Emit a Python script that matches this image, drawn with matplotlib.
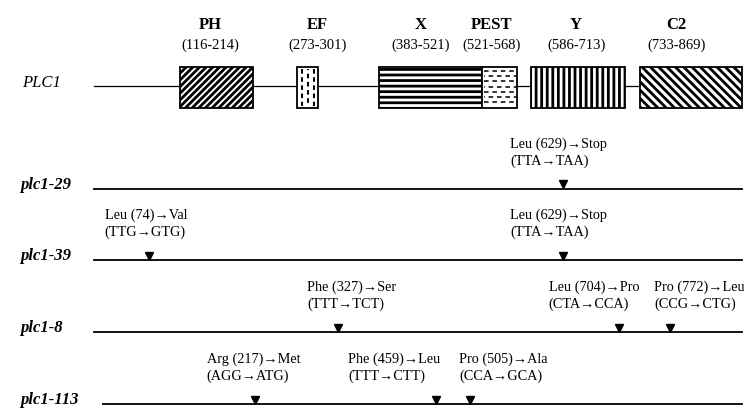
import matplotlib
matplotlib.use('Agg')
import matplotlib.pyplot as plt
from matplotlib.patches import Rectangle
import numpy as np

plt.rcParams['hatch.linewidth'] = 2.0
plt.rcParams['hatch.color'] = 'black'
SERIF = ['Liberation Serif', 'DejaVu Serif']

# ---------------- data ----------------
protein_name = 'PLC1'
protein_length = 869
domain_names = ['PH', 'EF', 'X', 'PEST', 'Y', 'C2']
domain_start = [116, 273, 383, 521, 586, 733]
domain_end = [214, 301, 521, 568, 713, 869]

allele_names = ['plc1-29', 'plc1-39', 'plc1-8', 'plc1-113']
mut_allele = [0, 1, 1, 2, 2, 2, 3, 3, 3]
mut_pos = [629, 74, 629, 327, 704, 772, 217, 459, 505]
mut_aa = ['Leu (629)\u2192Stop', 'Leu (74)\u2192Val', 'Leu (629)\u2192Stop',
          'Phe (327)\u2192Ser', 'Leu (704)\u2192Pro', 'Pro (772)\u2192Leu',
          'Arg (217)\u2192Met', 'Phe (459)\u2192Leu', 'Pro (505)\u2192Ala']
mut_codon = ['(TTA\u2192TAA)', '(TTG\u2192GTG)', '(TTA\u2192TAA)',
             '(TTT\u2192TCT)', '(CTA\u2192CCA)', '(CCG\u2192CTG)',
             '(AGG\u2192ATG)', '(TTT\u2192CTT)', '(CCA\u2192GCA)']

# ---------------- style / layout ----------------
domain_hatch = ['/////', None, '---', None, '|||', '\\\\\\\\']
domain_label_dx = [-6, 10, -10, -8, -2, -15]   # pixels
mut_label_dx = [-4, -3, -4, 14, -25, 30, -2, -42, 33]  # pixels
wt_y = 86
allele_y = [189, 260, 332, 404]
allele_line_start = [0, 0, 0, 13]
box_top, box_h = 67, 41

fig = plt.figure(figsize=(7.55, 4.15), dpi=100)
ax = fig.add_axes([0, 0, 1, 1])
ax.set_xlim(-125.5, 886.6)
ax.set_ylim(415, 0)
ax.axis('off')

# wild-type protein
ax.plot([0, protein_length], [wt_y, wt_y], color='black', lw=0.9, zorder=1)
ax.text(22 / 755, wt_y - 3, protein_name, transform=ax.get_yaxis_transform(),
        family=SERIF, style='italic', fontsize=12, ha='left', va='center')

for name, s, e, h, dx in zip(domain_names, domain_start, domain_end,
                             domain_hatch, domain_label_dx):
    rect = Rectangle((s, box_top), e - s, box_h, facecolor='white',
                     edgecolor='black', lw=1.3, hatch=h, zorder=2)
    ax.add_patch(rect)
    cx = (s + e) / 2
    ax.annotate(name, xy=(cx, 25), xytext=(dx, 0), textcoords='offset pixels',
                ha='center', va='center', family=SERIF, fontweight='bold',
                fontsize=12)
    ax.annotate(f'({s}-{e})', xy=(cx, 45), xytext=(dx, 0),
                textcoords='offset pixels', ha='center', va='center',
                family=SERIF, fontsize=10.5)
    if name == 'EF':
        for k, f in enumerate((0.22, 0.5, 0.78)):
            xx = s + f * (e - s)
            ln, = ax.plot([xx, xx], [box_top + 2, box_top + box_h - 2],
                          color='black', lw=1.4,
                          ls=(1.8 * (k % 2), (2.4, 1.8)), zorder=3)
            ln.set_clip_path(rect)
    if name == 'PEST':
        ys = np.arange(box_top + 4, box_top + box_h - 2, 5.2)
        for i, yy in enumerate(ys):
            ln, = ax.plot([s + 2, e - 1], [yy, yy], color='black', lw=1.1,
                          ls=(2.5 * (i % 2), (3.0, 2.5)), zorder=3)
            ln.set_clip_path(rect)

# mutant alleles
for i, (name, y) in enumerate(zip(allele_names, allele_y)):
    ax.plot([allele_line_start[i], protein_length], [y, y], color='black',
            lw=1.3, zorder=1)
    ax.text(20 / 755, y - 4, name, transform=ax.get_yaxis_transform(),
            family=SERIF, style='italic', fontweight='bold', fontsize=12,
            ha='left', va='center')

for a, p, t1, t2, dx in zip(mut_allele, mut_pos, mut_aa, mut_codon, mut_label_dx):
    y = allele_y[a]
    ax.plot([p], [y - 4.5], marker='v', ms=6.2, color='black', ls='none',
            zorder=3)
    ax.annotate(f'{t1}\n{t2}', xy=(p, y), xytext=(dx, 21),
                textcoords='offset pixels', ha='center', va='bottom',
                multialignment='left', family=SERIF, fontsize=10.3,
                linespacing=1.3)

fig.savefig('out.png', dpi=100, facecolor='white')
